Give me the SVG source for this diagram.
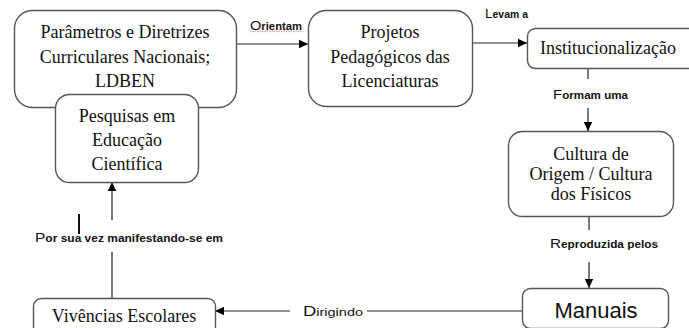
<svg xmlns="http://www.w3.org/2000/svg" width="689" height="328" viewBox="0 0 689 328">
<defs>
<marker id="arr" markerWidth="10" markerHeight="10" refX="9" refY="5" orient="auto" markerUnits="userSpaceOnUse">
<path d="M0,0.8 L9,5 L0,9.2 Z" fill="#000"/>
</marker>
<style>
.box{fill:#fff;stroke:#555;stroke-width:1.4}
.t{font-family:"Liberation Serif","Times New Roman",serif;font-size:18px;fill:#111;text-anchor:middle}
.lbl{font-family:"Liberation Sans",Arial,sans-serif;font-size:10px;font-weight:bold;fill:#111}
.big{font-size:13px;font-weight:normal}
.ln{stroke:#222;stroke-width:1.2;fill:none}
</style>
</defs>
<rect width="689" height="328" fill="#fff"/>
<g id="connectors">
<line class="ln" x1="237" y1="44" x2="308" y2="44" marker-end="url(#arr)"/>
<line class="ln" x1="472" y1="43" x2="527" y2="43" marker-end="url(#arr)"/>
<line class="ln" x1="588" y1="68" x2="588" y2="79"/>
<line class="ln" x1="588" y1="108" x2="588" y2="131" marker-end="url(#arr)"/>
<line class="ln" x1="589" y1="216" x2="589" y2="230"/>
<line class="ln" x1="589" y1="262" x2="589" y2="288" marker-end="url(#arr)"/>
<line class="ln" x1="522" y1="311" x2="367" y2="311"/>
<line class="ln" x1="290" y1="311" x2="215" y2="311" marker-end="url(#arr)"/>
<line class="ln" x1="112" y1="298" x2="112" y2="252"/>
<line class="ln" x1="112" y1="220" x2="112" y2="182" marker-end="url(#arr)"/>
<line x1="79" y1="214" x2="79" y2="234" stroke="#111" stroke-width="2"/>
<path d="M250,32 l2,-1.2 l2,1.2 l2,-1.2 l2,1.2 l2,-1.2 l2,1.2 l2,-1.2 l2,1.2 l2,-1.2 l2,1.2 l2,-1.2 l2,1.2 l2,-1.2 l2,1.2 l2,-1.2 l2,1.2 l2,-1.2 l2,1.2 l2,-1.2 l2,1.2 l2,-1.2 l2,1.2 l2,-1.2 l2,1.2 l2,-1.2 l2,1.2" fill="none" stroke="#e03030" stroke-width="0.8" stroke-dasharray="1,1"/>
<text class="lbl" x="250" y="30" textLength="52" lengthAdjust="spacingAndGlyphs"><tspan class="big">O</tspan>rientam</text>
<text class="lbl" x="485" y="18" textLength="43" lengthAdjust="spacingAndGlyphs"><tspan class="big">L</tspan>evam a</text>
<text class="lbl" x="553" y="99" textLength="75" lengthAdjust="spacingAndGlyphs"><tspan class="big">F</tspan>ormam uma</text>
<text class="lbl" x="550" y="248" textLength="108" lengthAdjust="spacingAndGlyphs"><tspan class="big">R</tspan>eproduzida pelos</text>
<text class="lbl" x="35" y="242" textLength="188" lengthAdjust="spacingAndGlyphs"><tspan class="big">P</tspan>or sua vez manifestando-se em</text>
<text class="lbl" x="303" y="316" textLength="60" lengthAdjust="spacingAndGlyphs" style="font-size:11px;font-weight:normal"><tspan style="font-size:14px">D</tspan>irigindo</text>
</g>
<g id="n-parametros">
<rect class="box" x="14.5" y="10.5" width="222" height="97" rx="18"/>
<text class="t" x="125" y="38">Parâmetros e Diretrizes</text>
<text class="t" x="125" y="63">Curriculares Nacionais;</text>
<text class="t" x="125" y="87">LDBEN</text>
</g>
<g id="n-pesquisas">
<rect class="box" x="55.5" y="94.5" width="143" height="88" rx="14"/>
<text class="t" x="127" y="122">Pesquisas em</text>
<text class="t" x="127" y="146">Educação</text>
<text class="t" x="127" y="170">Científica</text>
</g>
<g id="n-projetos">
<rect class="box" x="308.5" y="10.5" width="164" height="96" rx="18"/>
<text class="t" x="390" y="38">Projetos</text>
<text class="t" x="390" y="63">Pedagógicos das</text>
<text class="t" x="390" y="87">Licenciaturas</text>
</g>
<g id="n-institucionalizacao">
<rect class="box" x="527.5" y="28.5" width="175" height="40" rx="8"/>
<text class="t" x="540" y="54" style="text-anchor:start">Institucionalização</text>
</g>
<g id="n-cultura">
<rect class="box" x="508.5" y="131.5" width="165" height="85" rx="14"/>
<text class="t" x="591" y="160">Cultura de</text>
<text class="t" x="591" y="180">Origem / Cultura</text>
<text class="t" x="591" y="200">dos Físicos</text>
</g>
<g id="n-manuais">
<rect class="box" x="522.5" y="288.5" width="146" height="40" rx="8"/>
<text x="596" y="318" style="font-family:'Liberation Sans',Arial,sans-serif;font-size:22px;fill:#111;text-anchor:middle">Manuais</text>
</g>
<g id="n-vivencias">
<rect class="box" x="33.5" y="298.5" width="182" height="40" rx="8"/>
<text class="t" x="124" y="322">Vivências Escolares</text>
</g>
</svg>
